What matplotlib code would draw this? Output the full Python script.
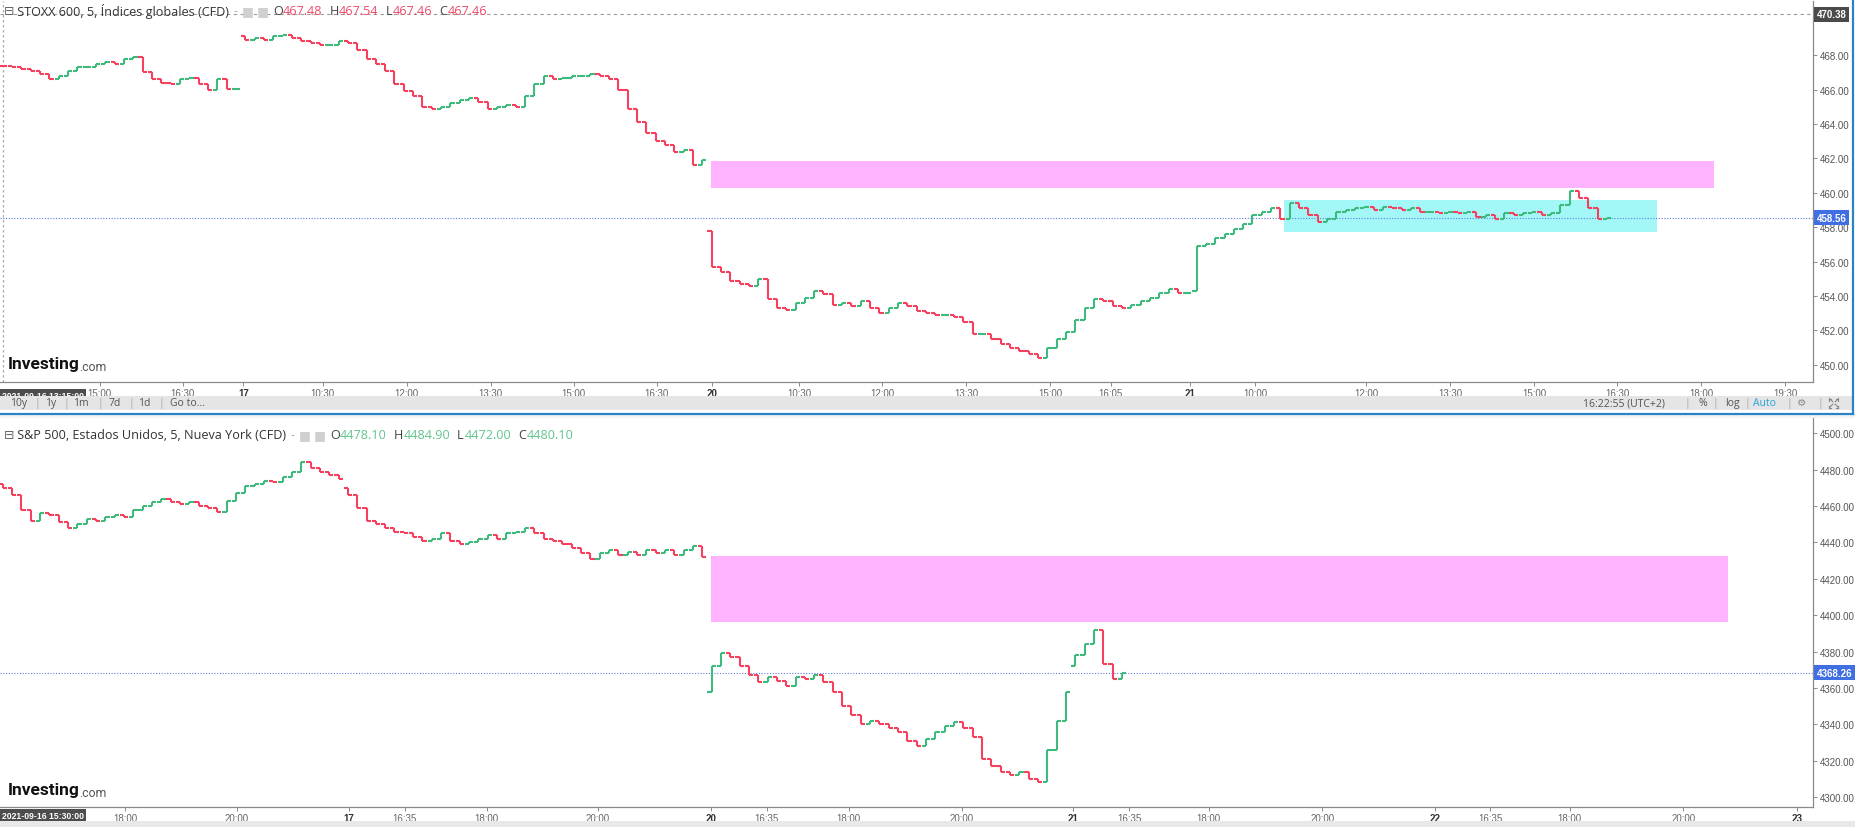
import numpy as np
import matplotlib.pyplot as plt
from matplotlib.collections import LineCollection
from matplotlib.patches import Rectangle
from matplotlib.lines import Line2D
from matplotlib.transforms import blended_transform_factory

plt.rcParams['font.family'] = ['Open Sans', 'DejaVu Sans']

# ---- STOXX 600, 10-minute closes ----
stoxx_close = [
    467.35, 467.3, 467.2, 467.1, 466.9, 466.6, 466.8, 467.1, 467.3, 467.3,
    467.5, 467.6, 467.5, 467.8, 467.9, 467.0, 466.6, 466.4, 466.3, 466.6,
    466.7, 466.3, 466.0, 466.6, 466.05, 466.05,
    468.9, 469.0, 468.9, 469.1, 469.2, 469.0, 468.8, 468.7, 468.6, 468.6,
    468.8, 468.7, 468.3, 467.8, 467.5, 467.1, 466.3, 465.9, 465.6, 465.0,
    464.9, 465.0, 465.2, 465.4, 465.5, 465.3, 464.9, 465.0, 465.1, 465.0,
    465.6, 466.3, 466.8, 466.6, 466.7, 466.8, 466.8, 466.9, 466.8, 466.6,
    466.0, 464.9, 464.1, 463.5, 463.0, 462.8, 462.4, 462.5, 461.6, 461.9,
    455.7, 455.4, 454.9, 454.7, 454.6, 455.0, 453.8, 453.3, 453.2, 453.6,
    453.9, 454.3, 454.1, 453.5, 453.6, 453.4, 453.7, 453.3, 453.0, 453.3,
    453.6, 453.4, 453.1, 453.0, 452.9, 452.9, 452.8, 452.5, 451.8, 451.8,
    451.5, 451.2, 451.0, 450.8, 450.6, 450.4, 451.0, 451.5, 451.9, 452.6,
    453.3, 453.8, 453.7, 453.4, 453.3, 453.5, 453.7, 453.9, 454.2, 454.4,
    454.2, 454.2,
    456.9, 457.0, 457.4, 457.6, 457.9, 458.2, 458.7, 458.9, 459.1, 458.5,
    459.4, 459.1, 458.7, 458.3, 458.5, 458.9, 459.0, 459.1, 459.2, 459.0,
    459.2, 459.1, 459.0, 459.1, 458.9, 458.9, 458.8, 458.9, 458.8, 458.9,
    458.6, 458.7, 458.5, 458.8, 458.7, 458.8, 458.9, 458.7, 458.8, 459.3,
    460.1, 459.7, 459.1, 458.5, 458.56,
]
stoxx_session_start = [0, 26, 76, 128]
stoxx_session_open = [467.40, 469.10, 457.80, 454.30]
stoxx_ticks = [10.4, 19.3, 25.8, 34.3, 43.3, 52.3, 61.2, 70.1, 76.0, 85.4, 94.3,
               103.3, 112.3, 118.8, 127.3, 134.3, 146.2, 155.2, 164.2, 173.1,
               182.1, 191.1]
stoxx_labels = ['15:00', '16:30', '17', '10:30', '12:00', '13:30', '15:00', '16:30',
                '20', '10:30', '12:00', '13:30', '15:00', '16:05', '21', '10:00',
                '12:00', '13:30', '15:00', '16:30', '18:00', '19:30']
stoxx_yticks = [450, 452, 454, 456, 458, 460, 462, 464, 466, 468]
stoxx_zone_x = [75.9, 183.5]
stoxx_zone_y = [460.25, 461.85]
stoxx_box_x = [137.4, 177.4]
stoxx_box_y = [457.7, 459.58]
stoxx_high_line = 470.38
stoxx_last = 458.56

# ---- S&P 500, 10-minute closes ----
spx_close = [
    4470, 4466, 4458, 4452, 4456, 4455, 4451, 4448, 4450, 4453,
    4452, 4454, 4455, 4454, 4458, 4460, 4462, 4464, 4462, 4461,
    4462, 4460, 4459, 4457, 4463, 4467, 4471, 4472, 4474, 4473,
    4476, 4479, 4484, 4481, 4479, 4477, 4475,
    4466, 4459, 4452, 4450, 4448, 4446, 4445, 4443, 4441, 4442,
    4445, 4441, 4439, 4440, 4442, 4444, 4442, 4445, 4446, 4448,
    4445, 4442, 4441, 4439, 4437, 4434, 4431, 4434, 4436, 4433,
    4435, 4433, 4436, 4434, 4436, 4433, 4436, 4438, 4432,
    4372, 4379, 4377, 4372, 4367, 4363, 4366, 4364, 4361, 4366,
    4365, 4367, 4363, 4358, 4350, 4345, 4340, 4342, 4340, 4338,
    4336, 4331, 4328, 4332, 4336, 4339, 4341, 4338, 4333, 4321,
    4317, 4314, 4312, 4314, 4310, 4308, 4326, 4342, 4358,
    4378, 4384, 4392, 4373, 4365, 4368.26,
]
spx_session_start = [0, 37, 76, 115]
spx_session_open = [4472.0, 4470.0, 4358.0, 4372.0]
spx_ticks = [13.1, 25.1, 37.1, 43.1, 51.9, 63.8, 75.9, 81.9, 90.7, 102.8, 114.8,
             120.8, 129.3, 141.5, 153.6, 159.5, 168.0, 180.2, 192.4]
spx_labels = ['18:00', '20:00', '17', '16:35', '18:00', '20:00', '20', '16:35',
              '18:00', '20:00', '21', '16:35', '18:00', '20:00', '22', '16:35',
              '18:00', '20:00', '23']
spx_yticks = [4300, 4320, 4340, 4360, 4380, 4400, 4420, 4440, 4460, 4480, 4500]
spx_zone_x = [75.9, 185.0]
spx_zone_y = [4396.0, 4432.4]
spx_last = 4368.26

day_labels = {'17', '20', '21', '22', '23'}

UP = '#3dba7c'
DN = '#f5405e'
PINK = '#ffb3ff'
CYAN = '#a3f7f7'
AXC = '#555555'
TICKFONT = 'Liberation Sans'


def ohlc(closes, starts, opens):
    c = np.asarray(closes, float)
    o = np.r_[c[0], c[:-1]]
    o[starts] = opens
    return o, c


def draw_bars(ax, o, c, w=0.45):
    segs, cols = [], []
    for x, oi, ci in zip(range(len(c)), o, c):
        col = UP if ci >= oi else DN
        segs += [[(x, min(oi, ci)), (x, max(oi, ci))],
                 [(x - w, oi), (x, oi)], [(x, ci), (x + w, ci)]]
        cols += [col] * 3
    ax.add_collection(LineCollection(segs, colors=cols, linewidths=1.5, zorder=3))


def style_axes(ax, ticks, labels, yticks, ylim, fmt):
    ax.set_xlim(-0.3, 194.1)
    ax.set_ylim(*ylim)
    for s in ['left', 'top']:
        ax.spines[s].set_visible(False)
    for s in ['right', 'bottom']:
        ax.spines[s].set_color('#8a8a8a')
        ax.spines[s].set_linewidth(0.9)
    ax.yaxis.tick_right()
    ax.set_yticks(yticks)
    ax.set_yticklabels([fmt % v for v in yticks])
    ax.set_xticks(ticks)
    ax.set_xticklabels(labels)
    ax.tick_params(axis='y', length=3, width=0.7, color='#8a8a8a', pad=2,
                   labelsize=7, labelcolor=AXC)
    ax.tick_params(axis='x', length=3, width=0.7, color='#8a8a8a', pad=1,
                   labelsize=7, labelcolor='#666666')
    for t in ax.get_xticklabels() + ax.get_yticklabels():
        t.set_fontfamily(TICKFONT)
    for t in ax.get_xticklabels():
        if t.get_text() in day_labels:
            t.set_fontweight('bold')
            t.set_color('#333333')


def header(ax, y, parts):
    prev = ax.text(0.002, y, '⊟', transform=ax.transAxes, color='#666666',
                   fontsize=9, va='center', family='DejaVu Sans')
    for txt, col, gap in parts:
        prev = ax.annotate(txt, xy=(1, 0.5), xycoords=prev, xytext=(gap, 0),
                           textcoords='offset points', color=col, fontsize=9.1,
                           va='center', ha='left')


def logo(ax, y):
    t = ax.text(0.0045, y, 'Investing', transform=ax.transAxes, fontsize=12.5,
                fontweight='bold', color='#111111', va='center', family='Roboto')
    ax.annotate('.com', xy=(1, 0.3), xycoords=t, xytext=(-0.5, 0),
                textcoords='offset points', fontsize=8.8, color='#555555',
                va='center', family='Roboto')


def price_tag(ax, y, txt, face):
    tr = blended_transform_factory(ax.transAxes, ax.transData)
    ax.text(1.002, y, txt, transform=tr, fontsize=7, color='white',
            fontweight='bold', va='center', ha='left', family=TICKFONT,
            bbox=dict(boxstyle='square,pad=0.25', facecolor=face, edgecolor='none'),
            zorder=10, clip_on=False)


def expand_icon(fig, cx, cy, s=4.5, col='#888888'):
    # corner-arrows "fullscreen" glyph drawn as strokes (no installed font has it)
    W, H = 1856.0, 828.0
    for dx, dy in [(-1, -1), (1, -1), (-1, 1), (1, 1)]:
        x0, y0 = cx + dx * 1.2, cy + dy * 1.2
        x1, y1 = cx + dx * s, cy + dy * s
        fig.add_artist(Line2D([x0 / W, x1 / W], [1 - y0 / H, 1 - y1 / H],
                              transform=fig.transFigure, color=col, lw=0.8))
        fig.add_artist(Line2D([x1 / W, x1 / W], [1 - y1 / H, 1 - (y1 - dy * 2) / H],
                              transform=fig.transFigure, color=col, lw=0.8))
        fig.add_artist(Line2D([x1 / W, (x1 - dx * 2) / W], [1 - y1 / H, 1 - y1 / H],
                              transform=fig.transFigure, color=col, lw=0.8))


fig = plt.figure(figsize=(18.56, 8.28), dpi=100)
fig.patch.set_facecolor('white')

# bands / frame
fig.add_artist(Rectangle((0, 1 - 411 / 828), 1853 / 1856, 14 / 828,
                         transform=fig.transFigure, facecolor='#e5e5e5', edgecolor='none'))
fig.add_artist(Rectangle((0, 1 - 419 / 828), 1, 4 / 828,
                         transform=fig.transFigure, facecolor='#f1f3f4', edgecolor='none'))
fig.add_artist(Rectangle((0, 0), 1, 6 / 828, transform=fig.transFigure,
                         facecolor='#e8e8e8', edgecolor='none'))
fig.add_artist(Line2D([0, 1853 / 1856], [1 - 415 / 828] * 2, transform=fig.transFigure,
                      color='#2b83c6', lw=1.6))
fig.add_artist(Line2D([1853 / 1856] * 2, [1 - 415 / 828, 1], transform=fig.transFigure,
                      color='#2b83c6', lw=1.6))

# ---- top panel ----
ax1 = fig.add_axes([0, 1 - 383 / 828, 1813 / 1856, 381 / 828])
o1, c1 = ohlc(stoxx_close, stoxx_session_start, stoxx_session_open)
ax1.add_patch(Rectangle((stoxx_zone_x[0], stoxx_zone_y[0]), stoxx_zone_x[1] - stoxx_zone_x[0],
                        stoxx_zone_y[1] - stoxx_zone_y[0], facecolor=PINK, edgecolor='none', zorder=1))
ax1.add_patch(Rectangle((stoxx_box_x[0], stoxx_box_y[0]), stoxx_box_x[1] - stoxx_box_x[0],
                        stoxx_box_y[1] - stoxx_box_y[0], facecolor=CYAN, edgecolor='none', zorder=1))
draw_bars(ax1, o1, c1)
ax1.axhline(stoxx_high_line, color='#9a9a9a', lw=0.8, ls=(0, (3, 3)), zorder=2)
ax1.axhline(stoxx_last, color='#5b7fe0', lw=0.8, ls=(0, (1, 1.5)), zorder=2)
ax1.axvline(0.0, color='#aaaaaa', lw=0.9, ls=(0, (2, 2)), zorder=2)
style_axes(ax1, stoxx_ticks, stoxx_labels, stoxx_yticks, (449.0, 471.15), '%.2f')
price_tag(ax1, stoxx_high_line, '470.38', '#4a4a4a')
price_tag(ax1, stoxx_last, '458.56', '#3f6fe3')
red = '#f04a68'
header(ax1, 0.974, [(' STOXX 600, 5, Índices globales (CFD)', '#333333', 0),
                    ('-', '#aaaaaa', 3), ('■ ■', '#d0d0d0', 3),
                    ('O', '#444444', 3), ('467.48', red, 0.3),
                    ('H', '#444444', 5), ('467.54', red, 0.3),
                    ('L', '#444444', 5), ('467.46', red, 0.3),
                    ('C', '#444444', 5), ('467.46', red, 0.3)])
logo(ax1, 0.048)
ax1.text(0.001, -0.036, '2021-09-16 13:15:00', transform=ax1.transAxes, fontsize=6.2,
         fontweight='bold', color='white', va='center', ha='left', family=TICKFONT,
         bbox=dict(boxstyle='square,pad=0.25', facecolor='#4d4d4d', edgecolor='none'), zorder=10)

# toolbar
ty = 1 - 404 / 828
for x, s in [(10, '10y'), (35, '|'), (45, '1y'), (64, '|'), (73, '1m'), (98, '|'),
             (109, '7d'), (129, '|'), (138, '1d'), (159, '|'), (170, 'Go to...')]:
    fig.text(x / 1856, ty, s, fontsize=7.5, color='#aaaaaa' if s == '|' else '#555555',
             va='center', ha='left')
for x, s, col in [(1583, '16:22:55 (UTC+2)', '#555555'), (1685, '|', '#aaaaaa'),
                  (1699, '%', '#555555'), (1713, '|', '#aaaaaa'), (1725, 'log', '#555555'),
                  (1745, '|', '#aaaaaa'), (1753, 'Auto', '#2a9fd6'), (1787, '|', '#aaaaaa'),
                  (1797, '⚙', '#888888'), (1818, '|', '#aaaaaa')]:
    fig.text(x / 1856, ty, s, fontsize=7.5, color=col, va='center', ha='left',
             family=['Open Sans', 'DejaVu Sans'])
expand_icon(fig, 1834, 404)

# ---- bottom panel ----
ax2 = fig.add_axes([0, 1 - 808 / 828, 1813 / 1856, 390 / 828])
o2, c2 = ohlc(spx_close, spx_session_start, spx_session_open)
ax2.add_patch(Rectangle((spx_zone_x[0], spx_zone_y[0]), spx_zone_x[1] - spx_zone_x[0],
                        spx_zone_y[1] - spx_zone_y[0], facecolor=PINK, edgecolor='none', zorder=1))
draw_bars(ax2, o2, c2)
ax2.axhline(spx_last, color='#5b7fe0', lw=0.8, ls=(0, (1, 1.5)), zorder=2)
style_axes(ax2, spx_ticks, spx_labels, spx_yticks, (4294.5, 4509.0), '%.2f')
price_tag(ax2, spx_last, '4368.26', '#3f6fe3')
grn = '#62c48f'
header(ax2, 0.955, [(' S&P 500, Estados Unidos, 5, Nueva York (CFD)', '#333333', 0),
                    ('-', '#aaaaaa', 3), ('■ ■', '#d0d0d0', 3),
                    ('O', '#444444', 3), ('4478.10', grn, 0.3),
                    ('H', '#444444', 5), ('4484.90', grn, 0.3),
                    ('L', '#444444', 5), ('4472.00', grn, 0.3),
                    ('C', '#444444', 5), ('4480.10', grn, 0.3)])
logo(ax2, 0.045)
ax2.text(0.001, -0.023, '2021-09-16 15:30:00', transform=ax2.transAxes, fontsize=6.2,
         fontweight='bold', color='white', va='center', ha='left', family=TICKFONT,
         bbox=dict(boxstyle='square,pad=0.25', facecolor='#4d4d4d', edgecolor='none'), zorder=10)

fig.savefig('out.png', dpi=100)
